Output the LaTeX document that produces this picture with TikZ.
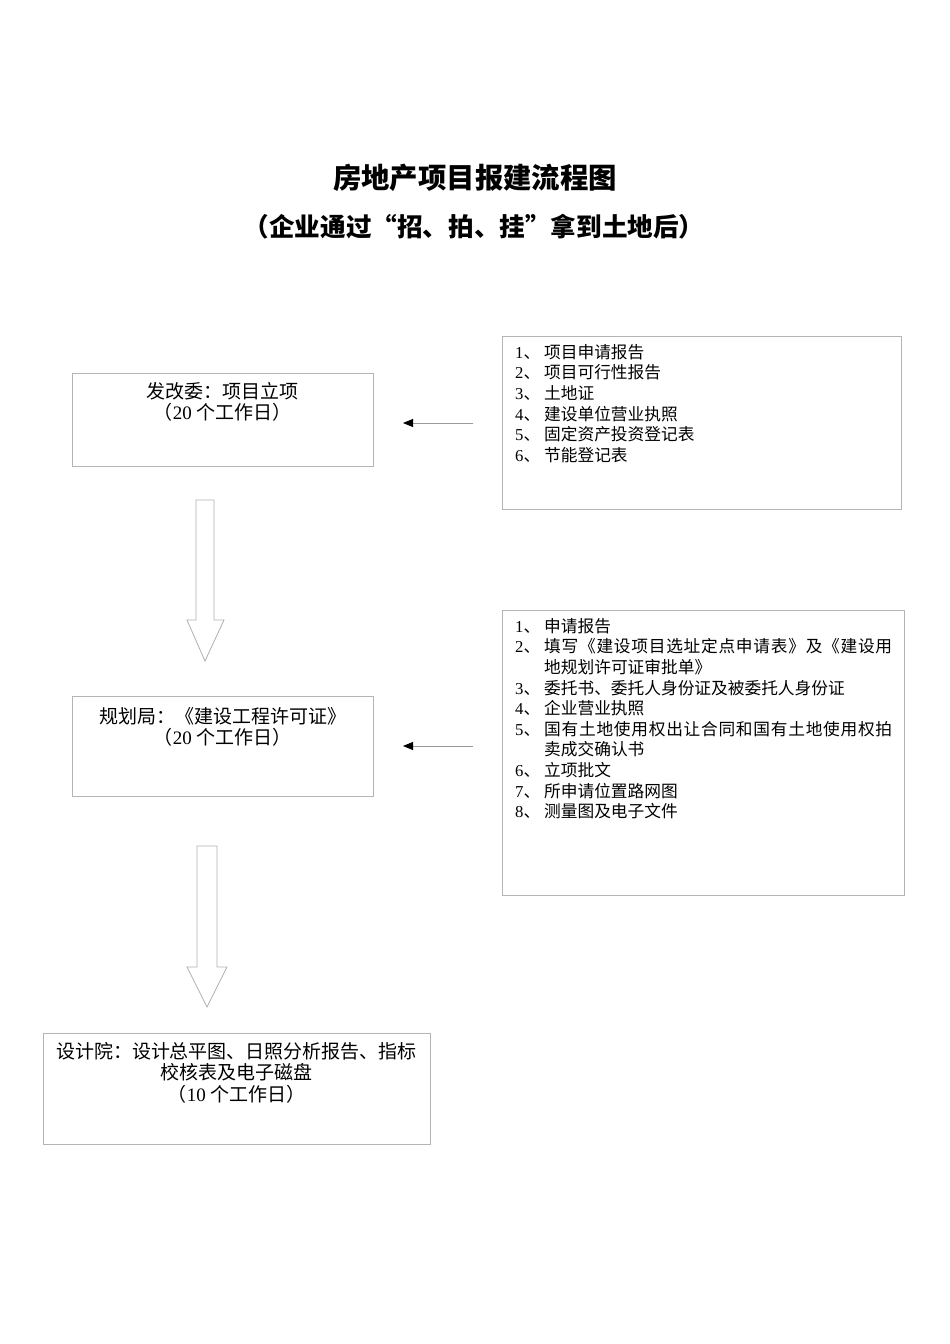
\documentclass[tikz,border=0pt]{standalone}
\usepackage{fontspec}
\setmainfont{Noto Sans CJK SC}
\newfontfamily\tnr{Liberation Serif}
\usetikzlibrary{arrows.meta}
\newcommand\nm[1]{{\tnr #1}}
\def\spr#1{#1\spra}
\def\spra#1{\ifx#1\relax\else\hfil#1\expandafter\spra\fi}
\definecolor{boxgray}{HTML}{B4B4B4}
\definecolor{arrgray}{HTML}{B0B0B0}
\definecolor{linegray}{HTML}{9A9A9A}
\begin{document}
\begin{tikzpicture}[x=1pt,y=-1pt,
  box/.style={draw=boxgray, line width=0.8pt, inner sep=0pt, anchor=north west},
  boxtext/.style={anchor=base, align=center, inner sep=0pt, font=\fontsize{19}{21.5}\selectfont},
  listtext/.style={anchor=base west, inner sep=0pt, font=\fontsize{16.7}{20.6}\selectfont},
  smallarrow/.style={draw=linegray, line width=0.8pt, -{Triangle[length=10pt,width=8pt,color=black,fill=black]}},
  blockarrow/.style={draw=arrgray, line width=0.8pt, line join=miter, fill=white}]
\useasboundingbox (0,0) rectangle (950,1344);
\fill[white] (0,0) rectangle (950,1344);

% title
\node[anchor=base, inner sep=0pt, font=\bfseries\fontsize{28.4}{30}\selectfont] (title) at (475,188) {房地产项目报建流程图};
\node[anchor=base, inner sep=0pt, font=\bfseries\fontsize{25.6}{27}\selectfont] (subtitle) at (474,236) {（企业通过\makebox[1em][r]{“}招、拍、挂\makebox[1em][l]{”}拿到土地后）};

% main boxes
\node[box, minimum width=301pt, minimum height=93pt] (b1) at (72,373) {};
\node[boxtext] (t1) at (222.5,419.5) {发改委：项目立项\\（\nm{20} 个工作日）};

\node[box, minimum width=301pt, minimum height=100pt] (b2) at (72,696) {};
\node[boxtext] (t2) at (222.5,744.5) {规划局：《建设工程许可证》\\（\nm{20} 个工作日）};

\node[box, minimum width=387pt, minimum height=111pt] (b3) at (43,1033) {};
\node[boxtext] (t3) at (236.5,1101) {设计院：设计总平图、日照分析报告、指标\\校核表及电子磁盘\\（\nm{10} 个工作日）};

% list boxes
\node[box, minimum width=399pt, minimum height=173pt] (l1) at (502,336) {};
\node[listtext] (lt1) at (515,358.3) {\begin{tabular}[t]{@{}l@{}l@{}}
\makebox[29pt][l]{\nm{1}、} & 项目申请报告\\
\nm{2}、 & 项目可行性报告\\
\nm{3}、 & 土地证\\
\nm{4}、 & 建设单位营业执照\\
\nm{5}、 & 固定资产投资登记表\\
\nm{6}、 & 节能登记表
\end{tabular}};

\node[box, minimum width=402pt, minimum height=285pt] (l2) at (502,610) {};
\node[listtext] (lt2) at (515,632.3) {\begin{tabular}[t]{@{}l@{}l@{}}
\makebox[29pt][l]{\nm{1}、} & 申请报告\\
\nm{2}、 & \makebox[348pt][s]{\spr 填写《建设项目选址定点申请表》及《建设用\relax}\\
 & 地规划许可证审批单》\\
\nm{3}、 & 委托书、委托人身份证及被委托人身份证\\
\nm{4}、 & 企业营业执照\\
\nm{5}、 & \makebox[348pt][s]{\spr 国有土地使用权出让合同和国有土地使用权拍\relax}\\
 & 卖成交确认书\\
\nm{6}、 & 立项批文\\
\nm{7}、 & 所申请位置路网图\\
\nm{8}、 & 测量图及电子文件
\end{tabular}};

% small arrows
\coordinate (a1s) at (473,423);
\coordinate (a1e) at (403,423);
\draw[smallarrow] (a1s) -- (a1e);
\coordinate (a2s) at (473,746);
\coordinate (a2e) at (403,746);
\draw[smallarrow] (a2s) -- (a2e);

% block arrows
\draw[blockarrow] (196,500) -- (214,500) -- (214,620) -- (224,620) -- (205,661) -- (187,620) -- (196,620) -- cycle;
\draw[blockarrow] (197,846) -- (217,846) -- (217,967) -- (227,967) -- (207,1007) -- (187,967) -- (197,967) -- cycle;
\end{tikzpicture}
\end{document}
